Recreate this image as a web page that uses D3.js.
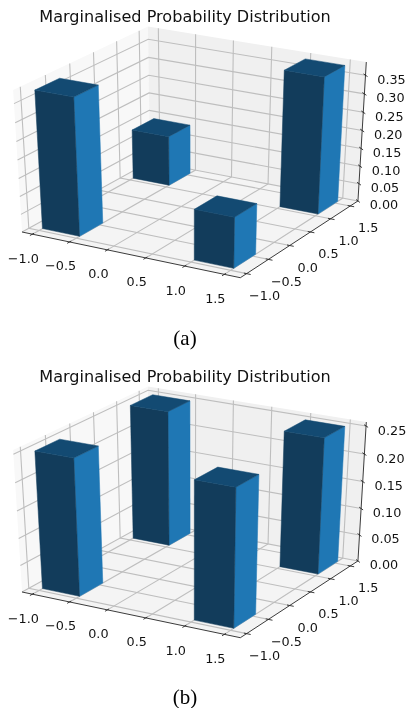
<!DOCTYPE html>
<html><head><meta charset="utf-8">
<script src="https://cdn.jsdelivr.net/npm/d3@7"></script>
<style>html,body{margin:0;padding:0;background:#fff}svg{display:block;filter:blur(0.45px)}</style></head>
<body><svg id="c" width="409" height="708"></svg>
<script>
const titleText = "Marginalised Probability Distribution";
const xTicks = [-1, -0.5, 0, 0.5, 1, 1.5];
const yTicks = [-1, -0.5, 0, 0.5, 1, 1.5];
const zTicksA = [0, 0.05, 0.10, 0.15, 0.20, 0.25, 0.30, 0.35];
const zTicksB = [0, 0.05, 0.10, 0.15, 0.20, 0.25];
const barX = [-1, -1, 1, 1];
const barY = [-1, 1, -1, 1];
const barWidth = 0.5;
const heightsA = [0.377, 0.14, 0.14, 0.377];
const heightsB = [0.25, 0.25, 0.25, 0.25];
const captions = ["(a)", "(b)"];

const svg = d3.select("#c");
const fmtXY = v => d3.format(".1f")(v).replace("-", "\u2212");
const fmtZ = d3.format(".2f");

const sx = d3.scaleLinear().domain([0, 0.1]).range([192.6, 444.6]);
const sy = d3.scaleLinear().domain([0, 0.1]).range([147.8, -14.2]);
const ux = d3.scaleLinear().domain([-1.14, 1.7]).range([0, 1]);
const uy = d3.scaleLinear().domain([-1.14, 1.7]).range([0, 1]);
const uyBar = d3.scaleLinear().domain([-1.21, 1.63]).range([0, 1]);

const n = [0.4330127, -0.75, 0.5], u = [0.8660254, 0.5, 0], v = [-0.25, 0.4330127, 0.8660254];
const dot = (a, b) => a[0]*b[0] + a[1]*b[1] + a[2]*b[2];
function proj(p) {
  const q = [p[0]-0.5, p[1]-0.5, p[2]-0.5];
  const w = 10 - dot(n, q);
  return [sx(dot(u, q)/w), sy(dot(v, q)/w)];
}
const line = d3.line();

function panel(dy, heights, zTicks, zMax, caption, captionY, titleY) {
  const g = svg.append("g").attr("transform", `translate(0,${dy})`);
  const uz = d3.scaleLinear().domain([0, zMax]).range([0, 1]);
  const poly = (pts, fill, stroke) => g.append("path").attr("d", line(pts.map(proj)) + "Z").attr("fill", fill)
    .attr("stroke", stroke ? fill : "none").attr("stroke-width", stroke ? 0.5 : 0).attr("stroke-linejoin", "round");
  poly([[0,0,0],[0,1,0],[0,1,1],[0,0,1]], "#f8f8f8");
  poly([[0,1,0],[1,1,0],[1,1,1],[0,1,1]], "#f0f0f0");
  poly([[0,0,0],[1,0,0],[1,1,0],[0,1,0]], "#f4f4f4");
  const seg = (pts, col, w) => g.append("path").attr("d", line(pts.map(proj))).attr("fill", "none").attr("stroke", col).attr("stroke-width", w);
  const gridCol = "#bebebe", gw = 1.1;
  xTicks.forEach(t => { const a = ux(t); seg([[a,0,0],[a,1,0],[a,1,1]], gridCol, gw); });
  yTicks.forEach(t => { const a = uy(t); seg([[1,a,0],[0,a,0],[0,a,1]], gridCol, gw); });
  zTicks.forEach(t => { const a = uz(t); seg([[0,0,a],[0,1,a],[1,1,a]], gridCol, gw); });
  const axisCol = "#262626";
  seg([[0,0,0],[1,0,0]], axisCol, 0.9);
  seg([[1,0,0],[1,1,0]], axisCol, 0.9);
  seg([[1,1,0],[1,1,1]], axisCol, 0.9);
  const label = (pos, dx, dyy, txt, size) => g.append("text").attr("x", pos[0]+dx).attr("y", pos[1]+dyy)
    .attr("text-anchor", "middle").attr("dominant-baseline", "central")
    .attr("font-family", "DejaVu Sans").attr("font-size", size).attr("fill", "#111").text(txt);
  xTicks.forEach(t => { const a = ux(t);
    seg([[a,0.012,0],[a,-0.018,0]], axisCol, 0.9);
    label(proj([a,0,0]), -9, 24, fmtXY(t), 12.8); });
  yTicks.forEach(t => { const a = uy(t);
    seg([[0.988,a,0],[1.018,a,0]], axisCol, 0.9);
    label(proj([1,a,0]), 18, 22, fmtXY(t), 12.8); });
  zTicks.forEach(t => { const a = uz(t);
    seg([[0.985,1.012,a],[1.015,0.988,a]], axisCol, 0.9);
    label(proj([1,1,a]), 26, 4, fmtZ(t), 12.8); });
  const order = d3.range(barX.length).sort((i, j) => d3.descending(barY[i]-barX[i], barY[j]-barX[j]));
  order.forEach(i => {
    const x0 = ux(barX[i]), x1 = ux(barX[i]+barWidth), y0 = uyBar(barY[i]), y1 = uyBar(barY[i]+barWidth), z1 = uz(heights[i]);
    poly([[x1,y0,0],[x1,y1,0],[x1,y1,z1],[x1,y0,z1]], "#1f77b4", true);
    poly([[x0,y0,0],[x1,y0,0],[x1,y0,z1],[x0,y0,z1]], "#123c5b", true);
    poly([[x0,y0,z1],[x1,y0,z1],[x1,y1,z1],[x0,y1,z1]], "#134a72", true);
  });
  g.append("text").attr("x", 185).attr("y", titleY).attr("text-anchor", "middle").attr("dominant-baseline", "central")
    .attr("font-family", "DejaVu Sans").attr("font-size", 16.1).attr("fill", "#111").text(titleText);
  g.append("text").attr("x", 185).attr("y", captionY).attr("text-anchor", "middle").attr("dominant-baseline", "central")
    .attr("font-family", "Liberation Serif").attr("font-size", 21).attr("fill", "#000").text(caption);
}
panel(0, heightsA, zTicksA, 0.385, captions[0], 338, 16);
panel(360, heightsB, zTicksB, 0.257, captions[1], 337, 16);
</script></body></html>
